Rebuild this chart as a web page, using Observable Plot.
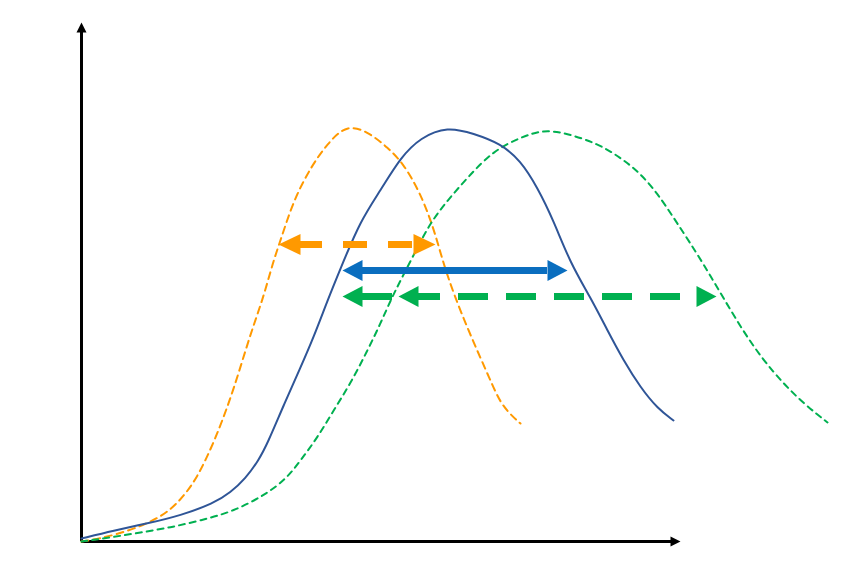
<!DOCTYPE html>
<html>
<head>
<meta charset="utf-8">
<script src="https://cdn.jsdelivr.net/npm/d3@7"></script>
<script src="https://cdn.jsdelivr.net/npm/@observablehq/plot@0.6"></script>
<style>
  html, body { margin: 0; padding: 0; background: #ffffff; }
  #chart { width: 868px; height: 571px; }
  svg { display: block; }
</style>
</head>
<body>
<div id="chart"></div>
<script>
// ---- Data (x = time-like, y = level) ----
const orangeX = [0, 19, 49, 79, 96, 112, 124, 136, 152, 169, 181, 192, 199, 212, 229, 246, 266, 289, 306, 322, 339, 352, 361, 372, 389, 409, 419, 432, 439];
const orangeY = [0, 3, 11, 24, 38, 58, 81, 108, 151, 208, 241, 281, 301, 341, 374, 398, 418, 408, 394, 378, 348, 314, 281, 248, 206, 161, 138, 124, 118];

const blueX = [0, 32, 66, 99, 132, 149, 164, 177, 186, 202, 219, 232, 246, 259, 279, 299, 319, 339, 366, 392, 419, 439, 456, 472, 489, 509, 526, 542, 559, 576, 592];
const blueY = [3, 11, 18, 26, 38, 49, 63, 81, 98, 136, 174, 204, 241, 273, 321, 351, 384, 404, 415, 408, 398, 381, 354, 321, 278, 244, 211, 181, 154, 133, 121];

const greenX = [0, 29, 59, 89, 119, 152, 186, 206, 219, 236, 252, 269, 286, 299, 309, 319, 336, 349, 366, 386, 412, 439, 462, 486, 516, 539, 559, 576, 592, 609, 626, 659, 682, 702, 722, 746];
const greenY = [0, 4, 9, 14, 21, 30, 48, 64, 81, 104, 131, 158, 191, 218, 241, 261, 294, 319, 341, 364, 391, 404, 412, 408, 398, 384, 368, 348, 324, 298, 271, 214, 181, 158, 138, 119];

// double-headed interval arrows: level, left tip, right tip, extra left heads
const arrowNames = ["orange", "blue", "green"];
const arrowLevel = [297, 271, 245];
const arrowLeft  = [197, 261, 261];
const arrowRight = [354, 486, 635];
const arrowExtraLeft = [null, null, 317];

// axes extents
const xAxisEnd = 599;
const yAxisEnd = 519;

// ---- Styles ----
const colors = {
  orange: "#FF9900",
  blueCurve: "#2F5597",
  blueArrow: "#0A6EBF",
  green: "#00B050"
};
const arrowColor = {orange: colors.orange, blue: colors.blueArrow, green: colors.green};
const arrowDash = {orange: "24,21", blue: null, green: "30,18"};
const HEAD = 20;

// custom filled arrow-head symbols with tip at the anchor point
function head(dir, L, hw) {
  return {
    draw(ctx) {
      if (dir === "left") { ctx.moveTo(0, 0); ctx.lineTo(L, -hw); ctx.lineTo(L, hw); }
      else if (dir === "right") { ctx.moveTo(0, 0); ctx.lineTo(-L, -hw); ctx.lineTo(-L, hw); }
      else { ctx.moveTo(0, 0); ctx.lineTo(-hw, L); ctx.lineTo(hw, L); }
      ctx.closePath();
    }
  };
}

const toPts = (xs, ys) => xs.map((x, i) => ({x, y: ys[i]}));
const orange = toPts(orangeX, orangeY);
const blue = toPts(blueX, blueY);
const green = toPts(greenX, greenY);

const marks = [];

// axes
marks.push(Plot.ruleX([0], {y1: 0, y2: yAxisEnd - 8, stroke: "#000", strokeWidth: 3}));
marks.push(Plot.ruleY([0], {x1: 0, x2: xAxisEnd - 8, stroke: "#000", strokeWidth: 3}));
marks.push(Plot.dot([{x: 0, y: yAxisEnd}], {x: "x", y: "y", r: 5, symbol: head("up", 10, 5), fill: "#000"}));
marks.push(Plot.dot([{x: xAxisEnd, y: 0}], {x: "x", y: "y", r: 5, symbol: head("right", 10, 5), fill: "#000"}));

// curves
marks.push(Plot.line(orange, {x: "x", y: "y", curve: "basis", stroke: colors.orange, strokeWidth: 2, strokeDasharray: "7,5"}));
marks.push(Plot.line(green, {x: "x", y: "y", curve: "basis", stroke: colors.green, strokeWidth: 2, strokeDasharray: "6,5"}));
marks.push(Plot.line(blue, {x: "x", y: "y", curve: "basis", stroke: colors.blueCurve, strokeWidth: 2}));

// interval arrows
arrowNames.forEach((name, i) => {
  const c = arrowColor[name];
  const d = [{y: arrowLevel[i], a: arrowLeft[i] + HEAD, b: arrowRight[i] - HEAD}];
  marks.push(Plot.ruleY(d, {y: "y", x1: "a", x2: "b", stroke: c, strokeWidth: 7, strokeDasharray: arrowDash[name] || undefined}));
  const lefts = [{x: arrowLeft[i], y: arrowLevel[i]}];
  if (arrowExtraLeft[i] != null) lefts.push({x: arrowExtraLeft[i], y: arrowLevel[i]});
  marks.push(Plot.dot(lefts, {x: "x", y: "y", r: 5, symbol: head("left", HEAD + (name === "orange" ? 2 : 0), 10.5), fill: c}));
  marks.push(Plot.dot([{x: arrowRight[i], y: arrowLevel[i]}], {x: "x", y: "y", r: 5, symbol: head("right", HEAD + (name === "orange" ? 2 : 0), 10.5), fill: c}));
});

const chart = Plot.plot({
  width: 868,
  height: 571,
  margin: 0,
  style: {background: "#ffffff"},
  x: {domain: [-81, 787], axis: null},
  y: {domain: [-30, 541], axis: null},
  marks
});
document.getElementById("chart").appendChild(chart);
</script>
</body>
</html>
